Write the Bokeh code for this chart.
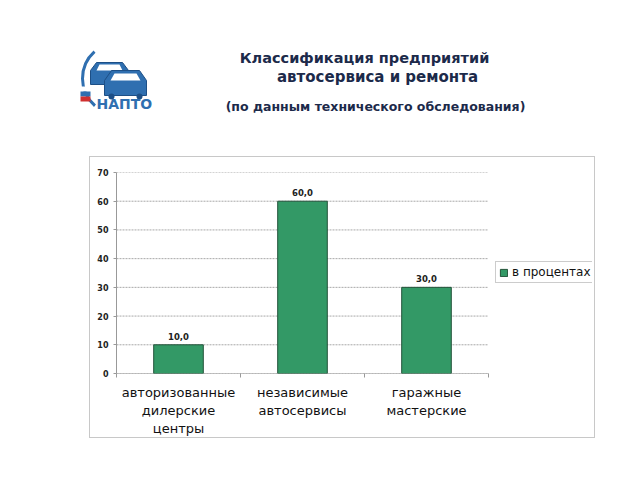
from bokeh.plotting import figure
from bokeh.models import Range1d, FixedTicker, Legend, LegendItem, Spacer
from bokeh.layouts import column, row
from bokeh.core.properties import value
from bokeh.embed import file_html
from bokeh.resources import INLINE

# ---- data ----
categories = ["авторизованные\nдилерские\nцентры", "независимые\nавтосервисы", "гаражные\nмастерские"]
percent = [10.0, 60.0, 30.0]
y_ticks = [0, 10, 20, 30, 40, 50, 60, 70]
series_name = "в процентах"
title_lines = ["Классификация предприятий", "автосервиса и ремонта"]
subtitle = "(по данным технического обследования)"
logo_text = "НАПТО"

FONT = value("DejaVu Sans")

# ---- header (titles + logo) ----
h = figure(width=640, height=156, x_range=Range1d(0, 640), y_range=Range1d(156, 0),
           x_axis_type=None, y_axis_type=None, output_backend="svg",
           toolbar_location=None, min_border=0)
h.grid.visible = False
h.outline_line_color = None

h.text(x=[364], y=[57], text=[title_lines[0]], text_font=FONT,
       text_font_style="bold", text_font_size="14.5px", text_color="#1c2a4a",
       text_align="center", text_baseline="middle")
h.text(x=[377], y=[76], text=[title_lines[1]], text_font=FONT,
       text_font_style="bold", text_font_size="15px", text_color="#1c2a4a",
       text_align="center", text_baseline="middle")
h.text(x=[375], y=[106], text=[subtitle], text_font=FONT, text_font_style="bold",
       text_font_size="12.5px", text_color="#1c2a4a", text_align="center",
       text_baseline="middle")

# logo (decorative)
h.arc(x=[118], y=[78], radius=36, start_angle=2.3, end_angle=4.0,
      line_color="#2f6fb0", line_width=3)
h.patch(x=[90, 90, 96, 122, 128, 128], y=[84, 70, 62, 62, 70, 84],
        fill_color="#2f6fb0", line_color="#1d4f86")
h.patch(x=[96, 99, 119, 122], y=[70, 64, 64, 70], fill_color="white", line_color=None)
h.patch(x=[104, 104, 111, 139, 146, 146], y=[95, 80, 70, 70, 80, 95],
        fill_color="#2f6fb0", line_color="#1d4f86")
h.patch(x=[110, 114, 136, 140], y=[80, 73, 73, 80], fill_color="white", line_color=None)
h.circle(x=[111, 139], y=[96, 96], radius=3, fill_color="#1d4f86", line_color=None)
h.quad(left=[80, 80, 80], right=[90, 90, 90], top=[86, 91, 96], bottom=[91, 96, 101],
       fill_color=["white", "#2f6fb0", "#d03030"], line_color=None)
h.text(x=[96], y=[103], text=[logo_text], text_font=FONT, text_font_style="bold",
       text_font_size="14px", text_color="#2f6fb0", text_baseline="middle")

# ---- chart ----
W, H = 506, 282
BL, BR, BT, BB = 26, 4, 15, 66          # borders around the frame
PLOT_W = 372                            # width of the bar area inside the frame
n = len(categories)
x_end = n * (W - BL - BR) / PLOT_W      # frame extends right to hold the legend

p = figure(width=W, height=H, x_range=Range1d(0, x_end), y_range=Range1d(0, 70),
           output_backend="svg", toolbar_location=None,
           min_border_left=BL, min_border_right=BR, min_border_top=BT,
           min_border_bottom=BB)
p.styles = {"border": "1px solid #c8c8c8"}
p.outline_line_color = None

# dotted gridlines over the bar area only
p.xgrid.visible = False
p.ygrid.visible = False
p.segment(x0=[0] * len(y_ticks), x1=[n] * len(y_ticks), y0=y_ticks, y1=y_ticks,
          line_color="#a8a8a8", line_dash="2 1", line_width=1)
# x axis baseline over the bar area only
p.segment(x0=[0], x1=[n], y0=[0], y1=[0], line_color="#999999", line_width=1)

xs = [i + 0.5 for i in range(n)]
bars = p.vbar(x=xs, top=percent, bottom=0, width=0.4,
              fill_color="#339966", line_color="#24533a", line_width=1)
labels = [f"{v:.1f}".replace(".", ",") for v in percent]
p.text(x=xs, y=percent, text=labels, text_font=FONT, text_font_style="bold",
       text_font_size="8.5px", text_color="#222222", text_align="center",
       text_baseline="bottom", y_offset=-5)

p.yaxis.ticker = FixedTicker(ticks=y_ticks)
p.yaxis.axis_line_color = "#999999"
p.yaxis.major_tick_line_color = "#999999"
p.yaxis.major_tick_out = 3
p.yaxis.major_tick_in = 0
p.yaxis.minor_tick_line_color = None
p.yaxis.major_label_text_font = "DejaVu Sans"
p.yaxis.major_label_text_font_style = "bold"
p.yaxis.major_label_text_font_size = "8px"
p.yaxis.major_label_text_color = "#222222"
p.yaxis.major_label_standoff = 5

p.xaxis.ticker = FixedTicker(ticks=xs, minor_ticks=list(range(n + 1)))
p.xaxis.major_label_overrides = {x: c for x, c in zip(xs, categories)}
p.xaxis.axis_line_color = None
p.xaxis.major_tick_line_color = None
p.xaxis.major_tick_out = 0
p.xaxis.minor_tick_line_color = "#999999"
p.xaxis.minor_tick_out = 4
p.xaxis.minor_tick_in = 0
p.xaxis.major_label_text_font = "DejaVu Sans"
p.xaxis.major_label_text_font_size = "13px"
p.xaxis.major_label_text_color = "#111111"
p.xaxis.major_label_standoff = 7

legend = Legend(items=[LegendItem(label=series_name, renderers=[bars])],
                location=(PLOT_W + 7, 90), orientation="vertical")
legend.label_text_font = "DejaVu Sans"
legend.label_text_font_size = "12px"
legend.label_text_color = "#111111"
legend.glyph_width = 9
legend.glyph_height = 9
legend.padding = 3
legend.margin = 0
legend.label_standoff = 4
legend.label_height = 12
legend.border_line_color = "#999999"
p.add_layout(legend)

layout = column(h, row(Spacer(width=89, height=H), p))
open("out.html", "w").write(file_html(layout, INLINE))
